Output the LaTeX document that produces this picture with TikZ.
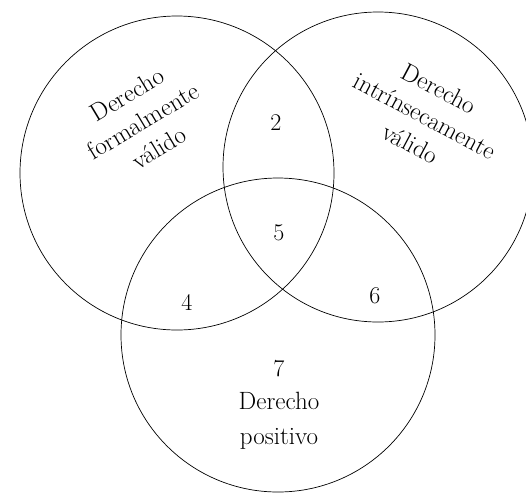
\documentclass[tikz,border=0pt]{standalone}
\usepackage{tikz}
\usetikzlibrary{positioning}

\tikzset{
  conjunto/.style={draw, circle, minimum size=#1, inner sep=0pt, line width=.7pt},
  rotulo/.style={align=center, font=\fontsize{25}{31}\selectfont},
  zona/.style={font=\fontsize{24}{28}\selectfont},
}

\begin{document}
\begin{tikzpicture}[x=1pt,y=-1pt]
	\useasboundingbox (0,0) rectangle (526,493);

	% los tres conjuntos
	\node[conjunto=314pt] (formal) at (177,173) {};
	\node[conjunto=310pt] (intrinseco) at (378,167) {};
	\node[conjunto=314pt] (positivo) at (278,335) {};

	% nombres
	\node[rotulo, rotate=31] (tformal) at (143,121) {Derecho\\formalmente\\válido};
	\node[rotulo, rotate=-28] (tintrinseco) at (425,116) {Derecho\\intrínsecamente\\válido};
	\node[rotulo, font=\fontsize{25}{35}\selectfont] (tpositivo) at (279,421) {Derecho\\positivo};

	% zonas
	\node[zona] (z2) at (276,123) {2};
	\node[zona] (z5) at (279,233) {5};
	\node[zona] (z4) at (187,302) {4};
	\node[zona] (z6) at (375,296) {6};
	\node[zona] (z7) at (279,369) {7};
\end{tikzpicture}
\end{document}
